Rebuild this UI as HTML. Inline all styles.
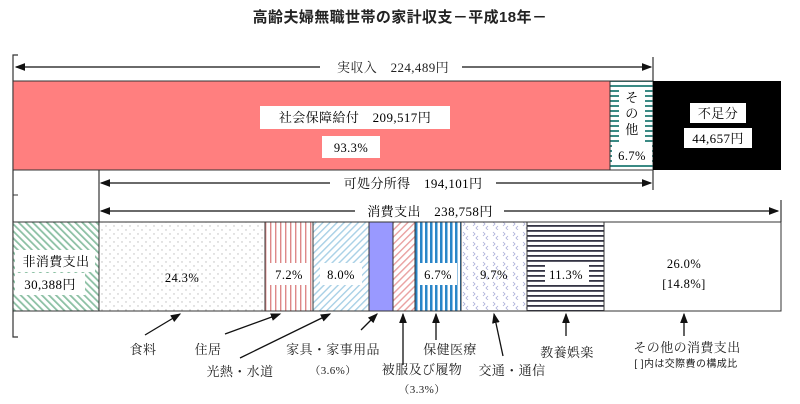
<!DOCTYPE html>
<html><head><meta charset="utf-8"><style>
html,body{margin:0;padding:0;background:#fff;}
svg{display:block;font-family:"Liberation Serif","Noto Serif CJK SC","Noto Sans CJK JP",serif;}
svg text{letter-spacing:0.4px;}
</style></head><body>
<svg width="800" height="404" viewBox="0 0 800 404" xmlns="http://www.w3.org/2000/svg">
<defs>
<marker id="ar" markerWidth="8" markerHeight="6" refX="7" refY="3" orient="auto"><path d="M0,0 L8,3 L0,6 z" fill="#111"/></marker>
<pattern id="pGreen" width="5" height="5" patternUnits="userSpaceOnUse" patternTransform="rotate(-45)"><rect width="5" height="5" fill="#fff"/><rect width="1.8" height="5" fill="#8cc0a4"/></pattern>
<pattern id="pDots" width="8" height="8" patternUnits="userSpaceOnUse"><rect width="8" height="8" fill="#fff"/><circle cx="2" cy="2" r="0.7" fill="#bbb"/><circle cx="6" cy="6" r="0.7" fill="#bbb"/></pattern>
<pattern id="pPinkV" width="5" height="5" patternUnits="userSpaceOnUse"><rect width="5" height="5" fill="#fff"/><rect width="1.4" height="5" fill="#d88"/></pattern>
<pattern id="pBlueD" width="5" height="5" patternUnits="userSpaceOnUse" patternTransform="rotate(45)"><rect width="5" height="5" fill="#fff"/><rect width="1.4" height="5" fill="#a8d0e6"/></pattern>
<pattern id="pPinkD" width="5" height="5" patternUnits="userSpaceOnUse" patternTransform="rotate(45)"><rect width="5" height="5" fill="#fff"/><rect width="1.4" height="5" fill="#e9a0a0"/></pattern>
<pattern id="pBlueV" width="5" height="5" patternUnits="userSpaceOnUse"><rect width="5" height="5" fill="#fff"/><rect width="2.5" height="5" fill="#2a86c8"/></pattern>
<pattern id="pChev" width="10" height="10" patternUnits="userSpaceOnUse"><rect width="10" height="10" fill="#fff"/><path d="M3,2 L5,4 L3,6 M8,6 L6,8 L8,10" stroke="#a8acd8" stroke-width="0.8" fill="none"/></pattern>
<pattern id="pNavyH" width="5" height="5" patternUnits="userSpaceOnUse"><rect width="5" height="5" fill="#fff"/><rect width="5" height="1.8" fill="#334"/></pattern>
<pattern id="pTealH" width="5" height="5" patternUnits="userSpaceOnUse"><rect width="5" height="5" fill="#fff"/><rect width="5" height="2" fill="#3a8a84"/></pattern>
</defs>

<text x="400" y="22" text-anchor="middle" font-family="'Liberation Sans','Noto Sans CJK JP',sans-serif" font-size="15" font-weight="bold" fill="#222">高齢夫婦無職世帯の家計収支－平成18年－</text>

<path d="M18,55 L13,55 L13,337 L18,337" stroke="#333" stroke-width="1.2" fill="none"/>
<path d="M13,195 L18,195" stroke="#333" stroke-width="1"/>

<line x1="320" y1="67" x2="16" y2="67" stroke="#111" stroke-width="1.3" marker-end="url(#ar)"/>
<line x1="462" y1="67" x2="651" y2="67" stroke="#111" stroke-width="1.3" marker-end="url(#ar)"/>
<text x="393" y="72" text-anchor="middle" font-size="13" fill="#222">実収入　224,489円</text>
<line x1="653" y1="57" x2="653" y2="190" stroke="#333" stroke-width="1.2"/>

<rect x="13" y="81" width="597" height="89" fill="#ff7f7f" stroke="#333" stroke-width="1"/>
<rect x="610" y="81" width="43" height="89" fill="url(#pTealH)" stroke="#333" stroke-width="1"/>
<rect x="619" y="87" width="26" height="60" fill="#fff"/>
<rect x="612" y="145" width="40" height="20" fill="#fff"/>
<text x="632" y="102" text-anchor="middle" font-size="13">そ</text>
<text x="632" y="118" text-anchor="middle" font-size="13">の</text>
<text x="632" y="134" text-anchor="middle" font-size="13">他</text>
<text x="632" y="160" text-anchor="middle" font-size="12.5">6.7%</text>
<rect x="653" y="81" width="128" height="89" fill="#000"/>
<rect x="690" y="103" width="56" height="20" fill="#fff"/>
<text x="718" y="118" text-anchor="middle" font-size="13">不足分</text>
<rect x="684" y="128" width="68" height="20" fill="#fff"/>
<text x="718" y="143" text-anchor="middle" font-size="13">44,657円</text>
<rect x="260" y="106" width="190" height="23" fill="#fff"/>
<text x="355" y="122" text-anchor="middle" font-size="13">社会保障給付　209,517円</text>
<rect x="322" y="136" width="58" height="22" fill="#fff"/>
<text x="351" y="152" text-anchor="middle" font-size="12.5">93.3%</text>

<line x1="99" y1="170" x2="99" y2="222" stroke="#333" stroke-width="1.2"/>
<line x1="330" y1="183" x2="101" y2="183" stroke="#111" stroke-width="1.3" marker-end="url(#ar)"/>
<line x1="496" y1="183" x2="651" y2="183" stroke="#111" stroke-width="1.3" marker-end="url(#ar)"/>
<text x="413" y="188" text-anchor="middle" font-size="13">可処分所得　194,101円</text>
<line x1="355" y1="211" x2="101" y2="211" stroke="#111" stroke-width="1.3" marker-end="url(#ar)"/>
<line x1="504" y1="211" x2="778" y2="211" stroke="#111" stroke-width="1.3" marker-end="url(#ar)"/>
<text x="430" y="216" text-anchor="middle" font-size="13">消費支出　238,758円</text>
<line x1="781" y1="200" x2="781" y2="222" stroke="#333" stroke-width="1.2"/>

<g stroke="#333" stroke-width="1">
<rect x="13" y="222" width="86" height="89" fill="url(#pGreen)"/>
<rect x="99" y="222" width="166" height="89" fill="url(#pDots)"/>
<rect x="265" y="222" width="48" height="89" fill="url(#pPinkV)"/>
<rect x="313" y="222" width="56" height="89" fill="url(#pBlueD)"/>
<rect x="369" y="222" width="24" height="89" fill="#9999ff"/>
<rect x="393" y="222" width="22" height="89" fill="url(#pPinkD)"/>
<rect x="415" y="222" width="46" height="89" fill="url(#pBlueV)"/>
<rect x="461" y="222" width="66" height="89" fill="url(#pChev)"/>
<rect x="527" y="222" width="77" height="89" fill="url(#pNavyH)"/>
<rect x="604" y="222" width="177" height="89" fill="#fff"/>
</g>
<rect x="15" y="250" width="80" height="22" fill="#fff"/>
<text x="56" y="266" text-anchor="middle" font-size="13">非消費支出</text>
<rect x="15" y="273" width="70" height="22" fill="#fff"/>
<text x="50" y="289" text-anchor="middle" font-size="13">30,388円</text>
<text x="182" y="282" text-anchor="middle" font-size="12.5">24.3%</text>
<rect x="270" y="263" width="38" height="22" fill="#fff"/>
<text x="289" y="279" text-anchor="middle" font-size="12.5">7.2%</text>
<rect x="320" y="263" width="42" height="22" fill="#fff"/>
<text x="341" y="279" text-anchor="middle" font-size="12.5">8.0%</text>
<rect x="419" y="263" width="38" height="22" fill="#fff"/>
<text x="438" y="279" text-anchor="middle" font-size="12.5">6.7%</text>
<text x="494" y="279" text-anchor="middle" font-size="12.5">9.7%</text>
<rect x="545" y="263" width="44" height="22" fill="#fff"/>
<text x="566" y="279" text-anchor="middle" font-size="12.5">11.3%</text>
<text x="684" y="268" text-anchor="middle" font-size="12.5">26.0%</text>
<text x="684" y="288" text-anchor="middle" font-size="12.5">[14.8%]</text>

<g stroke="#111" stroke-width="1.3">
<line x1="145" y1="335" x2="180" y2="314" marker-end="url(#ar)"/>
<line x1="225" y1="334" x2="280" y2="314" marker-end="url(#ar)"/>
<line x1="240" y1="358" x2="330" y2="314" marker-end="url(#ar)"/>
<line x1="361" y1="330" x2="377" y2="314" marker-end="url(#ar)"/>
<line x1="403" y1="365" x2="403" y2="314" marker-end="url(#ar)"/>
<line x1="436" y1="340" x2="436" y2="314" marker-end="url(#ar)"/>
<line x1="503" y1="356" x2="494" y2="314" marker-end="url(#ar)"/>
<line x1="566" y1="336" x2="566" y2="314" marker-end="url(#ar)"/>
<line x1="684" y1="336" x2="684" y2="314" marker-end="url(#ar)"/>
</g>

<g font-size="13" fill="#222" text-anchor="middle">
<text x="143" y="354">食料</text>
<text x="208" y="354">住居</text>
<text x="240" y="376">光熱・水道</text>
<text x="333" y="354">家具・家事用品</text>
<text x="333" y="374" font-size="11">（3.6%）</text>
<text x="422" y="374">被服及び履物</text>
<text x="422" y="393" font-size="11">（3.3%）</text>
<text x="450" y="354">保健医療</text>
<text x="512" y="375">交通・通信</text>
<text x="567" y="357">教養娯楽</text>
<text x="687" y="352">その他の消費支出</text>
<text x="686" y="367" font-size="10" font-family="'Liberation Sans','Noto Sans CJK JP',sans-serif">[ ]内は交際費の構成比</text>
</g>
</svg>
</body></html>
